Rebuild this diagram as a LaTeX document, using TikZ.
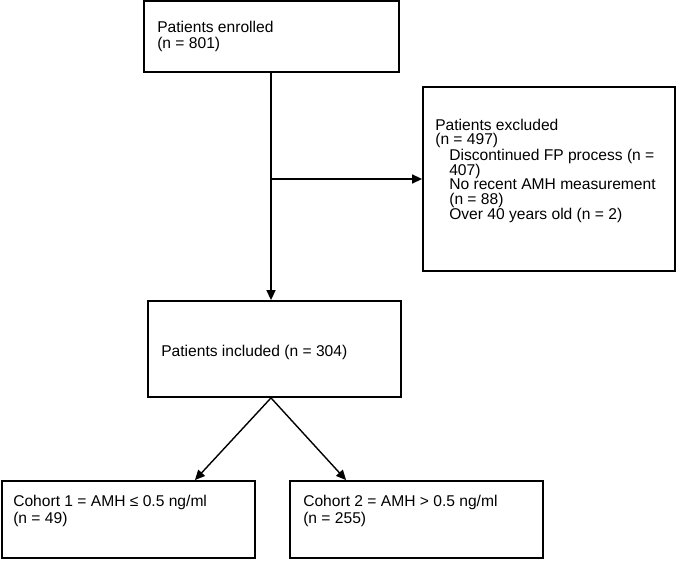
\documentclass[tikz,border=0pt]{standalone}
\usepackage{fontspec}
\setmainfont{Liberation Sans}
\usetikzlibrary{arrows.meta,calc}
\tikzset{
  box/.style={draw=black, line width=1.8pt, rectangle, inner sep=0pt},
  txt/.style={align=left, inner sep=0pt, font=\fontsize{15.6pt}{16.5pt}\selectfont, anchor=west},
  txtx/.style={align=left, inner sep=0pt, font=\fontsize{15.6pt}{14.2pt}\selectfont, anchor=west},
  arr/.style={line width=1.4pt, -{Triangle[length=10pt,width=9pt]}}
}
\begin{document}
\begin{tikzpicture}[x=1pt,y=-1pt]
\useasboundingbox (0,0) rectangle (677,561);
% boxes
\node[box, minimum width=255pt, minimum height=71pt] (enrolled) at (271.5,36.5) {};
\node[box, minimum width=252pt, minimum height=184pt] (excluded) at (549,179) {};
\node[box, minimum width=253pt, minimum height=96pt] (included) at (274.5,349) {};
\node[box, minimum width=253pt, minimum height=77pt] (c1) at (128.5,519.5) {};
\node[box, minimum width=253pt, minimum height=77pt] (c2) at (416.5,519.5) {};
% texts
\node[txt] (tenr) at ([xshift=14pt]enrolled.west) {Patients enrolled\\(n = 801)};
\node[txtx] (texc) at ([xshift=13pt,yshift=8pt]excluded.west) {Patients excluded\\(n = 497)\\\hspace*{14pt}Discontinued FP process (n =\\\hspace*{14pt}407)\\\hspace*{14pt}No recent AMH measurement\\\hspace*{14pt}(n = 88)\\\hspace*{14pt}Over 40 years old (n = 2)};
\node[txt] (tinc) at ([xshift=14pt,yshift=-3pt]included.west) {Patients included (n = 304)};
\node[txt] (tc1) at ([xshift=12pt,yshift=8.5pt]c1.west) {Cohort 1 = AMH ≤ 0.5 ng/ml\\(n = 49)};
\node[txt] (tc2) at ([xshift=14pt,yshift=8.5pt]c2.west) {Cohort 2 = AMH > 0.5 ng/ml\\(n = 255)};
% connectors
\coordinate (branch) at (271,179);
\draw[arr] ([xshift=-0.5pt]enrolled.south) -- ([xshift=-3.5pt]included.north);
\draw[arr] (branch) -- (excluded.west);
\coordinate (apex) at ([xshift=-3.5pt]included.south);
\draw[arr] (apex) -- ([xshift=-61pt]c1.north east);
\draw[arr] (apex) -- ([xshift=57pt]c2.north west);
\end{tikzpicture}
\end{document}
